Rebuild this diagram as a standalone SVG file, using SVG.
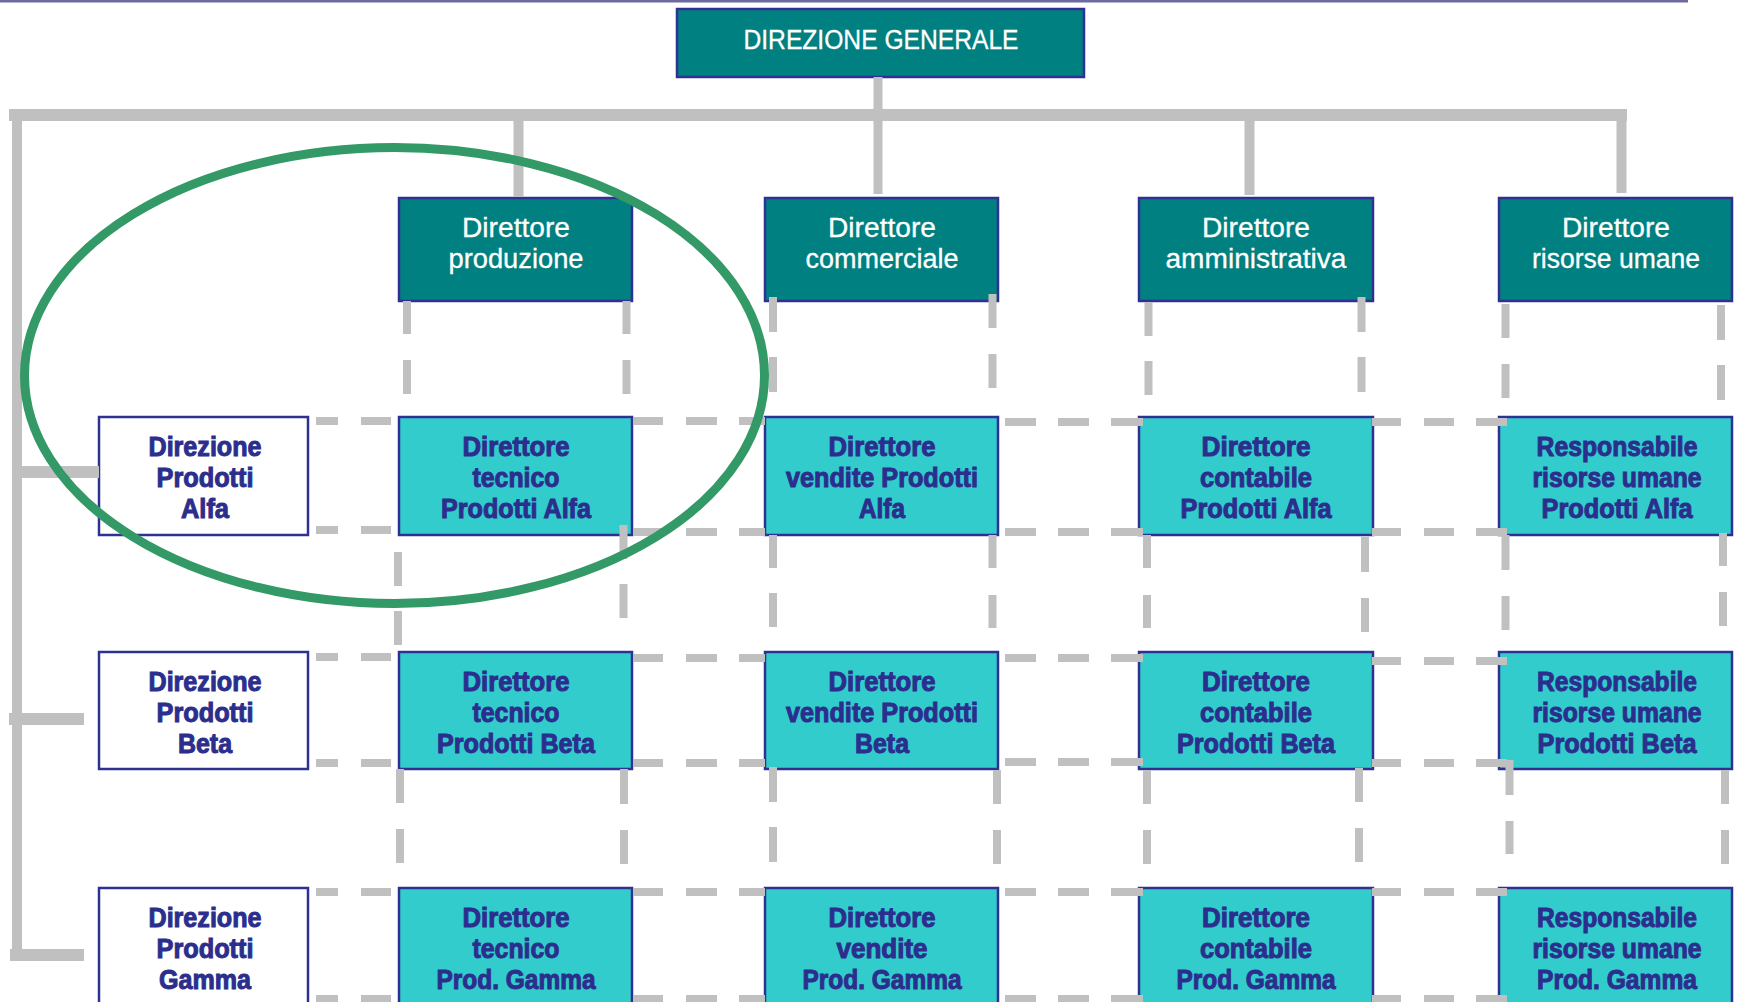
<svg xmlns="http://www.w3.org/2000/svg" width="1738" height="1002" viewBox="0 0 1738 1002">
<style>
.bg{fill:#ffffff}
.topline{fill:#6c6a9e}
.dark{fill:#008080;stroke:#2e3192;stroke-width:2.5}
.cyan{fill:#33cccc;stroke:#2e3192;stroke-width:2.5}
.white{fill:#ffffff;stroke:#2e3192;stroke-width:2.5}
.tw{fill:#ffffff;stroke:#ffffff;stroke-width:0.3;font-family:"Liberation Sans",Arial,sans-serif;font-size:27px;text-anchor:middle}
.tb{fill:#2b2e8c;stroke:#2b2e8c;stroke-width:1;font-family:"Liberation Sans",Arial,sans-serif;font-weight:bold;font-size:27px;text-anchor:middle}
.solid{stroke:#c0c0c0;fill:none}
.dash{stroke:#c0c0c0;stroke-width:8;fill:none}
.oval{fill:none;stroke:#339966;stroke-width:9}
</style>
<rect class="bg" x="0" y="0" width="1738" height="1002"/>
<rect class="topline" x="0" y="0" width="1688" height="2.5"/>

<g id="nodes">
  <g id="direzione-generale">
    <rect class="dark" x="677" y="9" width="407" height="68"/>
    <text class="tw" x="881" y="49" textLength="275" lengthAdjust="spacingAndGlyphs">DIREZIONE GENERALE</text>
  </g>
  <g id="dir-produzione">
    <rect class="dark" x="399" y="198" width="233" height="103"/>
    <text class="tw" x="516" y="237" textLength="108" lengthAdjust="spacingAndGlyphs">Direttore</text>
    <text class="tw" x="516" y="268" textLength="135" lengthAdjust="spacingAndGlyphs">produzione</text>
  </g>
  <g id="dir-commerciale">
    <rect class="dark" x="765" y="198" width="233" height="103"/>
    <text class="tw" x="882" y="237" textLength="108" lengthAdjust="spacingAndGlyphs">Direttore</text>
    <text class="tw" x="882" y="268" textLength="153" lengthAdjust="spacingAndGlyphs">commerciale</text>
  </g>
  <g id="dir-amministrativa">
    <rect class="dark" x="1139" y="198" width="234" height="103"/>
    <text class="tw" x="1256" y="237" textLength="108" lengthAdjust="spacingAndGlyphs">Direttore</text>
    <text class="tw" x="1256" y="268" textLength="181" lengthAdjust="spacingAndGlyphs">amministrativa</text>
  </g>
  <g id="dir-risorse-umane">
    <rect class="dark" x="1499" y="198" width="233" height="103"/>
    <text class="tw" x="1616" y="237" textLength="108" lengthAdjust="spacingAndGlyphs">Direttore</text>
    <text class="tw" x="1616" y="268" textLength="168" lengthAdjust="spacingAndGlyphs">risorse umane</text>
  </g>

  <!-- Row Alfa -->
  <g id="direzione-alfa">
    <rect class="white" x="99" y="417" width="209" height="118"/>
    <text class="tb" x="205" y="456" textLength="113" lengthAdjust="spacingAndGlyphs">Direzione</text>
    <text class="tb" x="205" y="487" textLength="97" lengthAdjust="spacingAndGlyphs">Prodotti</text>
    <text class="tb" x="205" y="518" textLength="48" lengthAdjust="spacingAndGlyphs">Alfa</text>
  </g>
  <g id="tecnico-alfa">
    <rect class="cyan" x="399" y="417" width="233" height="118"/>
    <text class="tb" x="516" y="456" textLength="107" lengthAdjust="spacingAndGlyphs">Direttore</text>
    <text class="tb" x="516" y="487" textLength="87" lengthAdjust="spacingAndGlyphs">tecnico</text>
    <text class="tb" x="516" y="518" textLength="150" lengthAdjust="spacingAndGlyphs">Prodotti Alfa</text>
  </g>
  <g id="vendite-alfa">
    <rect class="cyan" x="765" y="417" width="233" height="118"/>
    <text class="tb" x="882" y="456" textLength="107" lengthAdjust="spacingAndGlyphs">Direttore</text>
    <text class="tb" x="882" y="487" textLength="192" lengthAdjust="spacingAndGlyphs">vendite Prodotti</text>
    <text class="tb" x="882" y="518" textLength="46" lengthAdjust="spacingAndGlyphs">Alfa</text>
  </g>
  <g id="contabile-alfa">
    <rect class="cyan" x="1139" y="417" width="234" height="118"/>
    <text class="tb" x="1256" y="456" textLength="109" lengthAdjust="spacingAndGlyphs">Direttore</text>
    <text class="tb" x="1256" y="487" textLength="112" lengthAdjust="spacingAndGlyphs">contabile</text>
    <text class="tb" x="1256" y="518" textLength="151" lengthAdjust="spacingAndGlyphs">Prodotti Alfa</text>
  </g>
  <g id="risorse-alfa">
    <rect class="cyan" x="1499" y="417" width="233" height="118"/>
    <text class="tb" x="1617" y="456" textLength="161" lengthAdjust="spacingAndGlyphs">Responsabile</text>
    <text class="tb" x="1617" y="487" textLength="169" lengthAdjust="spacingAndGlyphs">risorse umane</text>
    <text class="tb" x="1617" y="518" textLength="151" lengthAdjust="spacingAndGlyphs">Prodotti Alfa</text>
  </g>

  <!-- Row Beta -->
  <g id="direzione-beta">
    <rect class="white" x="99" y="652" width="209" height="117"/>
    <text class="tb" x="205" y="691" textLength="113" lengthAdjust="spacingAndGlyphs">Direzione</text>
    <text class="tb" x="205" y="722" textLength="97" lengthAdjust="spacingAndGlyphs">Prodotti</text>
    <text class="tb" x="205" y="753" textLength="54" lengthAdjust="spacingAndGlyphs">Beta</text>
  </g>
  <g id="tecnico-beta">
    <rect class="cyan" x="399" y="652" width="233" height="117"/>
    <text class="tb" x="516" y="691" textLength="107" lengthAdjust="spacingAndGlyphs">Direttore</text>
    <text class="tb" x="516" y="722" textLength="87" lengthAdjust="spacingAndGlyphs">tecnico</text>
    <text class="tb" x="516" y="753" textLength="158" lengthAdjust="spacingAndGlyphs">Prodotti Beta</text>
  </g>
  <g id="vendite-beta">
    <rect class="cyan" x="765" y="652" width="233" height="117"/>
    <text class="tb" x="882" y="691" textLength="107" lengthAdjust="spacingAndGlyphs">Direttore</text>
    <text class="tb" x="882" y="722" textLength="192" lengthAdjust="spacingAndGlyphs">vendite Prodotti</text>
    <text class="tb" x="882" y="753" textLength="54" lengthAdjust="spacingAndGlyphs">Beta</text>
  </g>
  <g id="contabile-beta">
    <rect class="cyan" x="1139" y="652" width="234" height="117"/>
    <text class="tb" x="1256" y="691" textLength="108" lengthAdjust="spacingAndGlyphs">Direttore</text>
    <text class="tb" x="1256" y="722" textLength="112" lengthAdjust="spacingAndGlyphs">contabile</text>
    <text class="tb" x="1256" y="753" textLength="158" lengthAdjust="spacingAndGlyphs">Prodotti Beta</text>
  </g>
  <g id="risorse-beta">
    <rect class="cyan" x="1499" y="652" width="233" height="117"/>
    <text class="tb" x="1617" y="691" textLength="160" lengthAdjust="spacingAndGlyphs">Responsabile</text>
    <text class="tb" x="1617" y="722" textLength="169" lengthAdjust="spacingAndGlyphs">risorse umane</text>
    <text class="tb" x="1617" y="753" textLength="159" lengthAdjust="spacingAndGlyphs">Prodotti Beta</text>
  </g>

  <!-- Row Gamma -->
  <g id="direzione-gamma">
    <rect class="white" x="99" y="888" width="209" height="118"/>
    <text class="tb" x="205" y="927" textLength="113" lengthAdjust="spacingAndGlyphs">Direzione</text>
    <text class="tb" x="205" y="958" textLength="97" lengthAdjust="spacingAndGlyphs">Prodotti</text>
    <text class="tb" x="205" y="989" textLength="92" lengthAdjust="spacingAndGlyphs">Gamma</text>
  </g>
  <g id="tecnico-gamma">
    <rect class="cyan" x="399" y="888" width="233" height="118"/>
    <text class="tb" x="516" y="927" textLength="107" lengthAdjust="spacingAndGlyphs">Direttore</text>
    <text class="tb" x="516" y="958" textLength="87" lengthAdjust="spacingAndGlyphs">tecnico</text>
    <text class="tb" x="516" y="989" textLength="159" lengthAdjust="spacingAndGlyphs">Prod. Gamma</text>
  </g>
  <g id="vendite-gamma">
    <rect class="cyan" x="765" y="888" width="233" height="118"/>
    <text class="tb" x="882" y="927" textLength="107" lengthAdjust="spacingAndGlyphs">Direttore</text>
    <text class="tb" x="882" y="958" textLength="91" lengthAdjust="spacingAndGlyphs">vendite</text>
    <text class="tb" x="882" y="989" textLength="159" lengthAdjust="spacingAndGlyphs">Prod. Gamma</text>
  </g>
  <g id="contabile-gamma">
    <rect class="cyan" x="1139" y="888" width="234" height="118"/>
    <text class="tb" x="1256" y="927" textLength="108" lengthAdjust="spacingAndGlyphs">Direttore</text>
    <text class="tb" x="1256" y="958" textLength="112" lengthAdjust="spacingAndGlyphs">contabile</text>
    <text class="tb" x="1256" y="989" textLength="159" lengthAdjust="spacingAndGlyphs">Prod. Gamma</text>
  </g>
  <g id="risorse-gamma">
    <rect class="cyan" x="1499" y="888" width="233" height="118"/>
    <text class="tb" x="1617" y="927" textLength="160" lengthAdjust="spacingAndGlyphs">Responsabile</text>
    <text class="tb" x="1617" y="958" textLength="169" lengthAdjust="spacingAndGlyphs">risorse umane</text>
    <text class="tb" x="1617" y="989" textLength="160" lengthAdjust="spacingAndGlyphs">Prod. Gamma</text>
  </g>
</g>

<g id="connectors">
  <!-- solid hierarchy -->
  <path class="solid" stroke-width="9" d="M878 77 V194"/>
  <path class="solid" stroke-width="12" d="M9 115 H1627"/>
  <path class="solid" stroke-width="10" d="M518.5 121 V197 M1249.5 111 V195 M1621.5 109 V193"/>
  <path class="solid" stroke-width="10" d="M17 109 V955"/>
  <path class="solid" stroke-width="12" d="M21 472 H99 M9 719 H84 M10 955 H84"/>

  <!-- horizontal dashed lines (matrix rows) -->
  <path class="dash" d="M316 421 H338 M361 421 H391 M633 421 H663 M686 421 H717 M739 421 H765 M1005 422 H1036 M1058 422 H1089 M1111 422 H1143 M1372 422 H1401 M1424 422 H1454 M1476 422 H1507"/>
  <path class="dash" d="M316 530 H338 M361 530 H391 M633 532 H663 M686 532 H717 M739 532 H765 M1005 532 H1036 M1058 532 H1089 M1111 532 H1143 M1372 532 H1401 M1424 532 H1454 M1476 532 H1507"/>
  <path class="dash" d="M316 657 H338 M361 657 H391 M633 658 H663 M686 658 H717 M739 658 H765 M1005 658 H1036 M1058 658 H1089 M1111 658 H1143 M1372 661 H1401 M1424 661 H1454 M1476 661 H1507"/>
  <path class="dash" d="M316 763 H338 M361 763 H391 M633 763 H663 M686 763 H717 M739 763 H765 M1005 762 H1036 M1058 762 H1089 M1111 762 H1143 M1372 763 H1401 M1424 763 H1454 M1476 763 H1507"/>
  <path class="dash" d="M316 892 H338 M361 892 H391 M633 892 H663 M686 892 H717 M739 892 H765 M1005 892 H1036 M1058 892 H1089 M1111 892 H1143 M1372 892 H1401 M1424 892 H1454 M1476 892 H1507"/>
  <path class="dash" d="M316 999 H338 M361 999 H391 M633 999 H663 M686 999 H717 M739 999 H765 M1005 999 H1036 M1058 999 H1089 M1111 999 H1143 M1372 999 H1401 M1424 999 H1454 M1476 999 H1507"/>

  <!-- vertical dashed lines: top row to Alfa -->
  <path class="dash" d="M407 301 V334 M407 360 V394 M626.5 301 V334 M626.5 360 V394"/>
  <path class="dash" d="M773 297 V332 M773 357 V392 M992.5 294 V328 M992.5 354 V388"/>
  <path class="dash" d="M1148.5 302 V336 M1148.5 361 V395 M1361.5 297 V332 M1361.5 357 V392"/>
  <path class="dash" d="M1505.5 304 V338 M1505.5 364 V398 M1721 305 V340 M1721 365 V400"/>
  <!-- Alfa to Beta -->
  <path class="dash" d="M398 552 V586 M398 611 V645 M623.5 525 V559 M623.5 584 V618"/>
  <path class="dash" d="M773 535 V568 M773 593 V627 M992.5 535 V568 M992.5 595 V628"/>
  <path class="dash" d="M1147 535 V568 M1147 595 V628 M1365 537 V572 M1365 598 V632"/>
  <path class="dash" d="M1505.5 535 V570 M1505.5 596 V630 M1723 533 V566 M1723 592 V626"/>
  <!-- Beta to Gamma -->
  <path class="dash" d="M400 769 V803 M400 829 V863 M624 769 V804 M624 830 V864"/>
  <path class="dash" d="M773 767 V802 M773 827 V862 M997 770 V804 M997 830 V864"/>
  <path class="dash" d="M1147 770 V804 M1147 830 V864 M1359 768 V802 M1359 828 V862"/>
  <path class="dash" d="M1509.5 760 V795 M1509.5 821 V854 M1725 770 V804 M1725 830 V864"/>
</g>

<g id="highlight">
  <ellipse class="oval" cx="394.5" cy="375.5" rx="370" ry="228"/>
</g>
</svg>
